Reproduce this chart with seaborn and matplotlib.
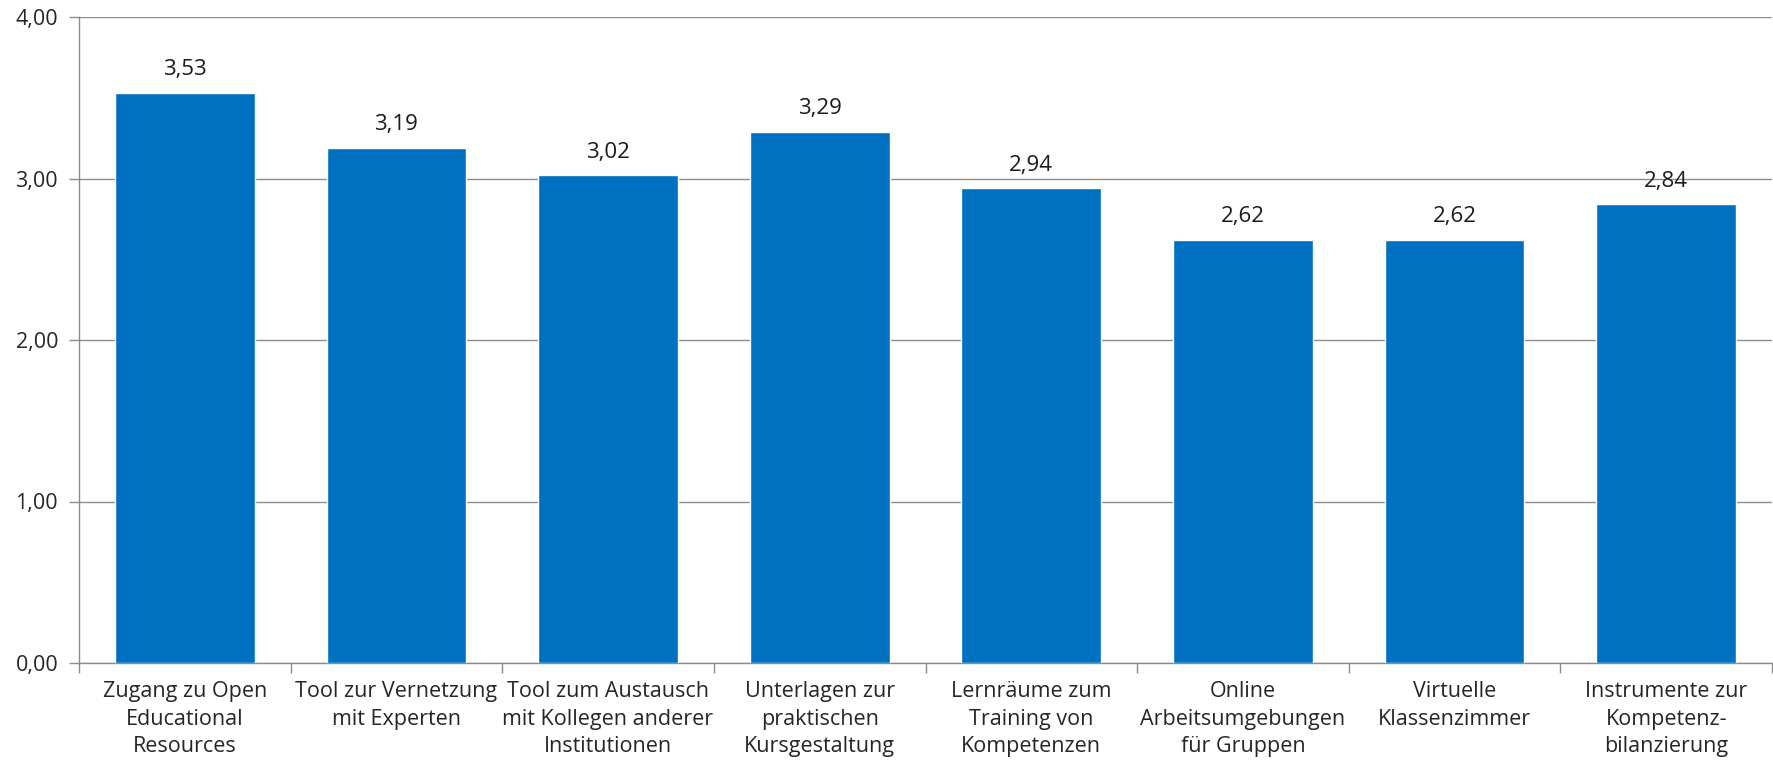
import matplotlib
matplotlib.use("Agg")
import matplotlib.pyplot as plt
import seaborn as sns
import pandas as pd
import numpy as np

categories = [
    "Zugang zu Open\nEducational\nResources",
    "Tool zur Vernetzung\nmit Experten",
    "Tool zum Austausch\nmit Kollegen anderer\nInstitutionen",
    "Unterlagen zur\npraktischen\nKursgestaltung",
    "Lernräume zum\nTraining von\nKompetenzen",
    "Online\nArbeitsumgebungen\nfür Gruppen",
    "Virtuelle\nKlassenzimmer",
    "Instrumente zur\nKompetenz-\nbilanzierung",
]
values = [3.53, 3.19, 3.02, 3.29, 2.94, 2.62, 2.62, 2.84]
y_ticks = [0, 1, 2, 3, 4]
y_tick_labels = ["0,00", "1,00", "2,00", "3,00", "4,00"]

sns.set_style("white")
plt.rcParams["font.family"] = ["Open Sans", "DejaVu Sans"]

df = pd.DataFrame({"cat": categories, "val": values})

fig = plt.figure(figsize=(17.73, 7.68), dpi=100)
ax = fig.add_axes([79 / 1773, 1 - 663 / 768, (1772 - 79) / 1773, (663 - 17) / 768])

sns.barplot(data=df, x="cat", y="val", color="#0070C0", saturation=1, width=0.66, ax=ax, zorder=3)

ax.set_ylim(0, 4)
ax.set_xlim(-0.5, len(categories) - 0.5)
ax.set_yticks(y_ticks)
ax.set_yticklabels(y_tick_labels, fontsize=15.5, color="#262626")
ax.yaxis.grid(True, color="#8c8c8c", linewidth=1, zorder=0)
ax.set_axisbelow(True)
ax.set_xlabel("")
ax.set_ylabel("")
ax.set_xticks(range(len(categories)))
ax.set_xticklabels(categories, fontsize=15.5, color="#262626", linespacing=1.42)
ax.tick_params(axis="x", length=0, pad=13)
ax.tick_params(axis="y", length=7, direction="out", color="#8c8c8c", width=1, pad=8, left=True)
# category boundary ticks
ax.set_xticks(np.arange(-0.5, len(categories), 1), minor=True)
ax.tick_params(axis="x", which="minor", length=7, direction="out", color="#8c8c8c", width=1, bottom=True)

for s in ["top", "right"]:
    ax.spines[s].set_visible(False)
for s in ["left", "bottom"]:
    ax.spines[s].set_color("#8c8c8c")
    ax.spines[s].set_linewidth(1)

for i, v in enumerate(values):
    ax.annotate(f"{v:.2f}".replace(".", ","), (i, v), xytext=(0, 9), textcoords="offset points",
                ha="center", va="bottom", fontsize=16, color="#1a1a1a")

fig.savefig("out.png", dpi=100)
